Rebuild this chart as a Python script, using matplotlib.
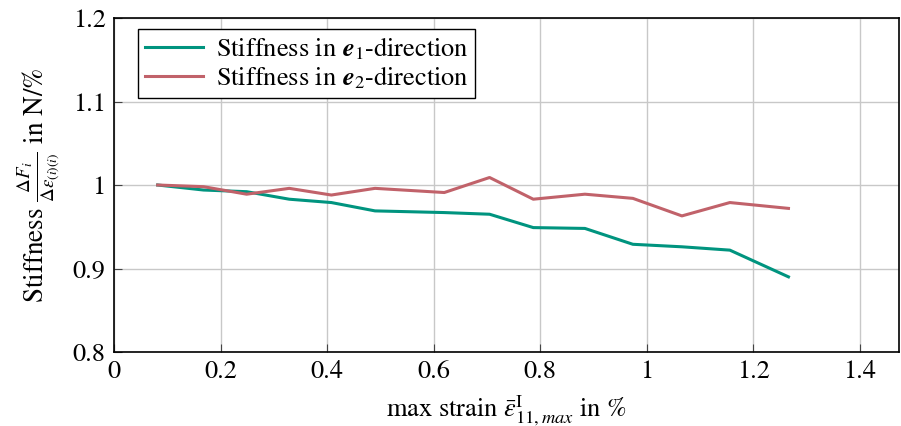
import matplotlib
matplotlib.use("Agg")
import matplotlib.pyplot as plt

plt.rcParams['font.family'] = ['STIXGeneral', 'DejaVu Serif']
plt.rcParams['mathtext.fontset'] = 'stix'

strain = [0.082, 0.168, 0.249, 0.329, 0.408, 0.490, 0.620, 0.705, 0.787, 0.884, 0.974, 1.066, 1.156, 1.266]
stiff_e1 = [1.000, 0.994, 0.992, 0.983, 0.979, 0.969, 0.967, 0.965, 0.949, 0.948, 0.929, 0.926, 0.922, 0.890]
stiff_e2 = [1.000, 0.998, 0.989, 0.996, 0.988, 0.996, 0.991, 1.009, 0.983, 0.989, 0.984, 0.963, 0.979, 0.972]

xticks = [0, 0.2, 0.4, 0.6, 0.8, 1, 1.2, 1.4]
xticklabels = ['0', '0.2', '0.4', '0.6', '0.8', '1', '1.2', '1.4']
yticks = [0.8, 0.9, 1.0, 1.1, 1.2]
yticklabels = ['0.8', '0.9', '1', '1.1', '1.2']

fig = plt.figure(figsize=(9.01, 4.26), dpi=100)
ax = fig.add_axes([0.1265, 0.1737, 0.871, 0.784])

ax.plot(strain, stiff_e1, color='#00947F', lw=2.2, label=r'Stiffness in $\mathbfit{e}_1$-direction')
ax.plot(strain, stiff_e2, color='#C1626A', lw=2.2, label=r'Stiffness in $\mathbfit{e}_2$-direction')

ax.set_xlim(0, 1.473)
ax.set_ylim(0.8, 1.2)
ax.set_xticks(xticks)
ax.set_xticklabels(xticklabels)
ax.set_yticks(yticks)
ax.set_yticklabels(yticklabels)
ax.grid(True, color='#C8C8C8', lw=1.0)
ax.tick_params(direction='in', length=6, labelsize=19, color='#444444', pad=6)
for s in ax.spines.values():
    s.set_color('black')
    s.set_linewidth(1.2)

ax.set_xlabel(r'max strain $\bar{\varepsilon}^{\mathrm{I}}_{11,max}$ in %', fontsize=19, labelpad=6)
ax.set_ylabel(r'Stiffness $\frac{\Delta F_i}{\Delta \varepsilon_{(i)(i)}}$ in N/%', fontsize=19.5, labelpad=8)

leg = ax.legend(loc='upper left', bbox_to_anchor=(0.0306, 0.967), fontsize=19, frameon=True,
                fancybox=False, edgecolor='black', handlelength=2.2, borderpad=0.25,
                labelspacing=0.1, handletextpad=0.5, borderaxespad=0)
leg.get_frame().set_linewidth(1.0)
leg.get_frame().set_alpha(1)

fig.savefig('out.png', dpi=100)
